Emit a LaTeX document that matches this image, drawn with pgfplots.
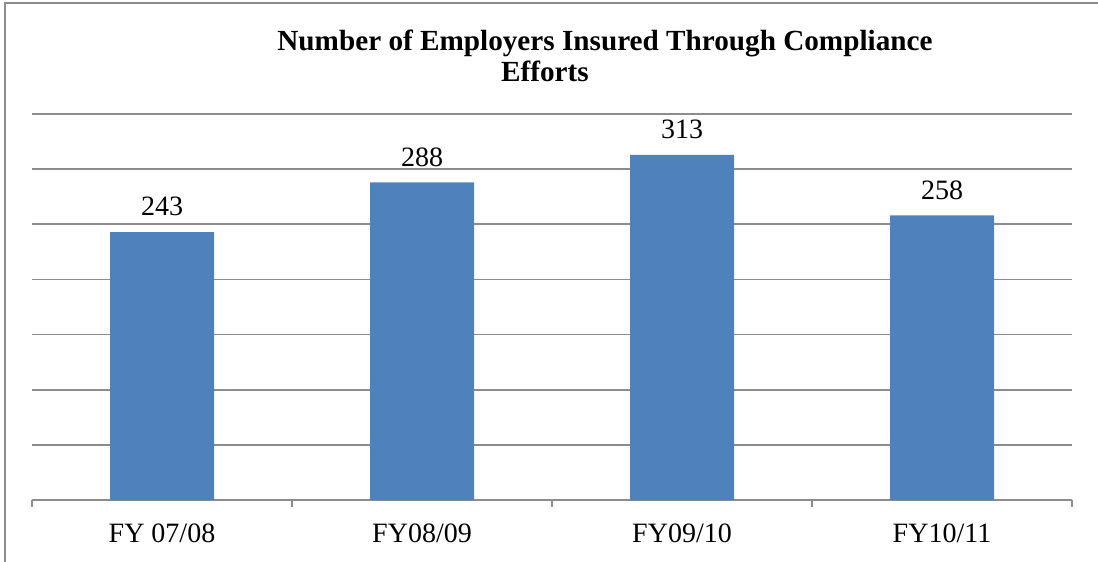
\documentclass[border=0pt]{standalone}
\usepackage{pgfplots}
\pgfplotsset{compat=1.18}
\usepackage{fontspec}
\setmainfont{Liberation Serif}
\definecolor{barblue}{HTML}{4F81BD}
\definecolor{gridgray}{HTML}{8C8C8C}
\begin{document}
\begin{tikzpicture}
\path[use as bounding box] (0,0) rectangle (549bp,281bp);
\draw[gridgray, line width=0.9bp] (2.5bp,0) -- (2.5bp,279.5bp) -- (549bp,279.5bp);
\node[anchor=base, font=\fontsize{14.6bp}{17bp}\selectfont\bfseries] at (302.5bp,255.5bp) {Number of Employers Insured Through Compliance};
\node[anchor=base, font=\fontsize{14.6bp}{17bp}\selectfont\bfseries] at (272.5bp,240bp) {Efforts};
\begin{axis}[
  at={(16bp,31bp)}, anchor=south west,
  scale only axis, width=520bp, height=193bp,
  xmin=-0.5, xmax=3.5, ymin=0, ymax=350,
  /pgf/number format/assume math mode=true,
  axis x line*=bottom, axis y line*=left,
  y axis line style={draw=none},
  x axis line style={gridgray, line width=0.9bp, -},
  ytick={50,100,...,350}, yticklabels={}, ytick style={draw=none},
  ymajorgrids, major grid style={gridgray, line width=0.9bp},
  xtick={0,1,2,3},
  xticklabels={FY 07/08, FY08/09, FY09/10, FY10/11},
  xtick style={draw=none},
  extra x ticks={-0.5,0.5,1.5,2.5,3.5}, extra x tick labels={},
  extra x tick style={xtick style={draw=gridgray, line width=0.9bp}, major tick length=3.5bp, tick align=outside, xmajorgrids=false},
  ticklabel style={font=\fontsize{14bp}{17bp}\selectfont},
  xticklabel style={yshift=-4bp},
  ybar, bar width=52bp,
  nodes near coords,
  every node near coord/.append style={font=\fontsize{14bp}{17bp}\selectfont, yshift=4.5bp},
  clip=false,
]
\addplot[fill=barblue, draw=none] coordinates {(0,243) (1,288) (2,313) (3,258)};
\end{axis}
\end{tikzpicture}
\end{document}
